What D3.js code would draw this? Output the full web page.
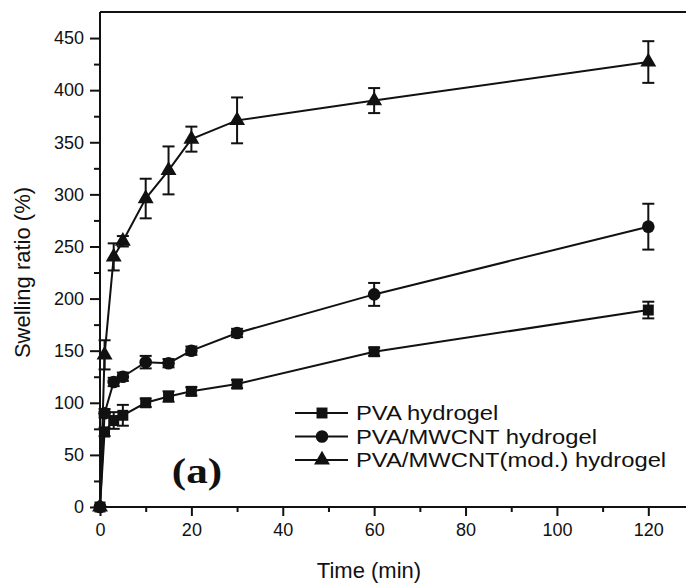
<!DOCTYPE html>
<html>
<head>
<meta charset="utf-8">
<script src="https://cdn.jsdelivr.net/npm/d3@7"></script>
<style>
html,body{margin:0;padding:0;background:#fff;}
svg{display:block;}
text{fill:#111;}
</style>
</head>
<body>
<svg id="chart" width="686" height="585"></svg>
<script>
// ---- data ----
const times = [0, 1, 3, 5, 10, 15, 20, 30, 60, 120];
const pvaValues = [0, 72, 83, 88, 100, 106, 111, 118, 149, 189];
const pvaErrors = [0, 4, 8, 10, 4, 5, 4, 4, 4, 8];
const mwcntValues = [0, 90, 120, 125, 139, 138, 150, 167, 204, 269];
const mwcntErrors = [0, 4, 4, 4, 6, 4, 4, 4, 11, 22];
const modValues = [0, 146, 240, 255, 296, 323, 353, 371, 390, 427];
const modErrors = [0, 14, 13, 5, 19, 23, 12, 22, 12, 20];
const seriesNames = ["PVA hydrogel", "PVA/MWCNT hydrogel", "PVA/MWCNT(mod.) hydrogel"];
const seriesShapes = ["square", "circle", "triangle"];
const xMajorTicks = [0, 20, 40, 60, 80, 100, 120];
const xMinorTicks = [10, 30, 50, 70, 90, 110, 130];
const yMajorTicks = [0, 50, 100, 150, 200, 250, 300, 350, 400, 450];
const yMinorTicks = [25, 75, 125, 175, 225, 275, 325, 375, 425];
const xTitle = "Time (min)";
const yTitle = "Swelling ratio (%)";
const panelLabel = "(a)";

const series = [
  {name: seriesNames[0], shape: seriesShapes[0], values: pvaValues, errors: pvaErrors},
  {name: seriesNames[1], shape: seriesShapes[1], values: mwcntValues, errors: mwcntErrors},
  {name: seriesNames[2], shape: seriesShapes[2], values: modValues, errors: modErrors}
];

const SANS = '"Liberation Sans", Arial, sans-serif';
const SERIF = '"Liberation Serif", "Times New Roman", serif';

const svg = d3.select("#chart");
const x = d3.scaleLinear().domain([0, 130]).range([100, 694]);
const y = d3.scaleLinear().domain([0, 475]).range([507, 12]);

// top frame line
svg.append("line").attr("x1", x(0)).attr("x2", 686).attr("y1", y(475)).attr("y2", y(475))
  .attr("stroke", "#111").attr("stroke-width", 2);

// axes
const gx = svg.append("g").attr("transform", `translate(0,${y(0)})`);
gx.call(d3.axisBottom(x).tickValues(xMajorTicks).tickSize(9).tickPadding(7).tickFormat(d3.format("d")));
const gxm = svg.append("g").attr("transform", `translate(0,${y(0)})`);
gxm.call(d3.axisBottom(x).tickValues(xMinorTicks).tickSize(5).tickFormat(""));
gxm.select(".domain").remove();
gx.select(".domain").attr("d", `M${x(0)},0H686`);

const gy = svg.append("g").attr("transform", `translate(${x(0)},0)`);
gy.call(d3.axisLeft(y).tickValues(yMajorTicks).tickSize(10).tickPadding(6).tickFormat(d3.format("d")));
const gym = svg.append("g").attr("transform", `translate(${x(0)},0)`);
gym.call(d3.axisLeft(y).tickValues(yMinorTicks).tickSize(6).tickFormat(""));
gym.select(".domain").remove();
gy.select(".domain").attr("d", `M0,${y(475)}V${y(0)}`);

svg.selectAll(".domain").attr("stroke", "#111").attr("stroke-width", 2);
svg.selectAll(".tick line").attr("stroke", "#111").attr("stroke-width", 2);
svg.selectAll(".tick text").attr("font-size", 18).style("font-family", SANS).attr("fill", "#111");

// axis titles
svg.append("text").attr("x", x(65) - 28).attr("y", 578).attr("text-anchor", "middle")
  .style("font-family", SANS).attr("font-size", 22).text(xTitle);
svg.append("text").attr("transform", `translate(30,${y(225)}) rotate(-90)`).attr("text-anchor", "middle")
  .style("font-family", SANS).attr("font-size", 22).text(yTitle);

// symbols
function symbolPath(shape) {
  if (shape === "square") return d3.symbol().type(d3.symbolSquare).size(120)();
  if (shape === "circle") return d3.symbol().type(d3.symbolCircle).size(125)();
  return d3.symbol().type(d3.symbolTriangle).size(110)();
}

const line = d3.line().x(d => x(d.t)).y(d => y(d.v));
const capW = 6;

series.forEach(s => {
  const pts = times.map((t, i) => ({t, v: s.values[i], e: s.errors[i]}));
  const g = svg.append("g");
  g.append("path").datum(pts).attr("d", line).attr("fill", "none").attr("stroke", "#111").attr("stroke-width", 2);
  const eb = g.selectAll(".eb").data(pts.filter(p => p.e > 0)).enter().append("g");
  eb.append("line").attr("x1", d => x(d.t)).attr("x2", d => x(d.t))
    .attr("y1", d => y(d.v + d.e)).attr("y2", d => y(d.v - d.e)).attr("stroke", "#111").attr("stroke-width", 2);
  eb.append("line").attr("x1", d => x(d.t) - capW).attr("x2", d => x(d.t) + capW)
    .attr("y1", d => y(d.v + d.e)).attr("y2", d => y(d.v + d.e)).attr("stroke", "#111").attr("stroke-width", 2);
  eb.append("line").attr("x1", d => x(d.t) - capW).attr("x2", d => x(d.t) + capW)
    .attr("y1", d => y(d.v - d.e)).attr("y2", d => y(d.v - d.e)).attr("stroke", "#111").attr("stroke-width", 2);
  g.selectAll(".m").data(pts).enter().append("path")
    .attr("d", symbolPath(s.shape))
    .attr("transform", d => `translate(${x(d.t)},${y(d.v)})`)
    .attr("fill", "#111");
});

// legend
const legY = [413, 436.5, 460];
series.forEach((s, i) => {
  const g = svg.append("g").attr("transform", `translate(0,${legY[i]})`);
  g.append("line").attr("x1", 295).attr("x2", 348).attr("y1", 0).attr("y2", 0).attr("stroke", "#111").attr("stroke-width", 2);
  g.append("path").attr("d", symbolPath(s.shape)).attr("transform", "translate(322,0)").attr("fill", "#111");
  g.append("text").attr("transform", "translate(356,7) scale(1.19,1)").style("font-family", SANS)
    .attr("font-size", 20).text(s.name);
});

// panel label
svg.append("text").attr("transform", "translate(197,483) scale(1.2,1)").attr("text-anchor", "middle")
  .style("font-family", SERIF).attr("font-weight", "bold")
  .attr("font-size", 36).text(panelLabel);
</script>
</body>
</html>
